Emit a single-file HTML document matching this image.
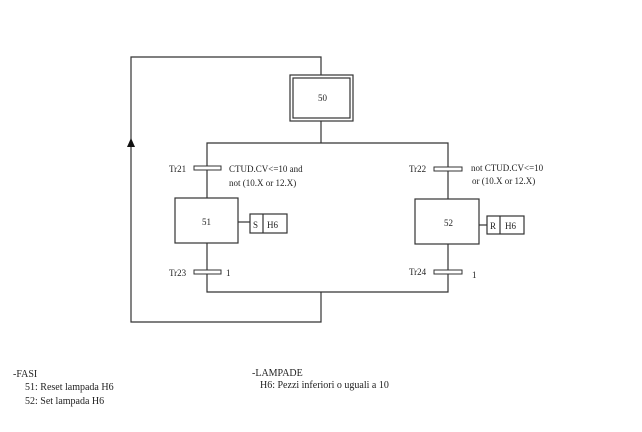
<!DOCTYPE html>
<html><head><meta charset="utf-8"><style>
body{margin:0;background:#fff;}
svg text{font-family:"Liberation Serif",serif;fill:#222;}
</style></head><body>
<svg width="642" height="427" viewBox="0 0 642 427" xmlns="http://www.w3.org/2000/svg">
<g stroke="#333" stroke-width="1.2" fill="none">
<polyline points="321,75 321,57 131,57 131,322 321,322 321,292"/>
<rect x="290" y="75" width="63" height="46"/>
<rect x="293" y="78" width="57" height="40"/>
<line x1="321" y1="121" x2="321" y2="143"/>
<polyline points="207,198 207,143 448,143 448,199"/>
<polyline points="207,243 207,292 448,292 448,244"/>
<rect x="175" y="198" width="63" height="45"/>
<rect x="415" y="199" width="64" height="45"/>
<line x1="238" y1="222" x2="250" y2="222"/>
<rect x="250" y="214" width="37" height="19"/>
<line x1="263" y1="214" x2="263" y2="233"/>
<line x1="479" y1="225" x2="487" y2="225"/>
<rect x="487" y="216" width="37" height="18"/>
<line x1="500" y1="216" x2="500" y2="234"/>
</g>
<g fill="#fff" stroke="#333" stroke-width="1">
<rect x="194" y="166" width="27" height="4"/>
<rect x="194" y="270" width="27" height="4"/>
<rect x="434" y="167" width="28" height="4"/>
<rect x="434" y="270" width="28" height="4"/>
</g>
<polygon points="131,138 127,147 135,147" fill="#111"/>
<g font-size="9">
<text x="318" y="101">50</text>
<text x="202" y="225">51</text>
<text x="444" y="226">52</text>
<text x="253" y="228">S</text>
<text x="267" y="228">H6</text>
<text x="490" y="229">R</text>
<text x="505" y="229">H6</text>
<text x="169" y="172">Tr21</text>
<text x="169" y="276">Tr23</text>
<text x="409" y="172">Tr22</text>
<text x="409" y="275">Tr24</text>
<text x="229" y="172">CTUD.CV&lt;=10 and</text>
<text x="229" y="186">not (10.X or 12.X)</text>
<text x="471" y="171">not CTUD.CV&lt;=10</text>
<text x="472" y="184">or (10.X or 12.X)</text>
<text x="226" y="276">1</text>
<text x="472" y="278">1</text>
<text x="13" y="377" font-size="10">-FASI</text>
<text x="25" y="390" font-size="10">51: Reset lampada H6</text>
<text x="25" y="404" font-size="10">52: Set lampada H6</text>
<text x="252" y="376" font-size="10">-LAMPADE</text>
<text x="260" y="388" font-size="10">H6: Pezzi inferiori o uguali a 10</text>
</g>
</svg>
</body></html>
